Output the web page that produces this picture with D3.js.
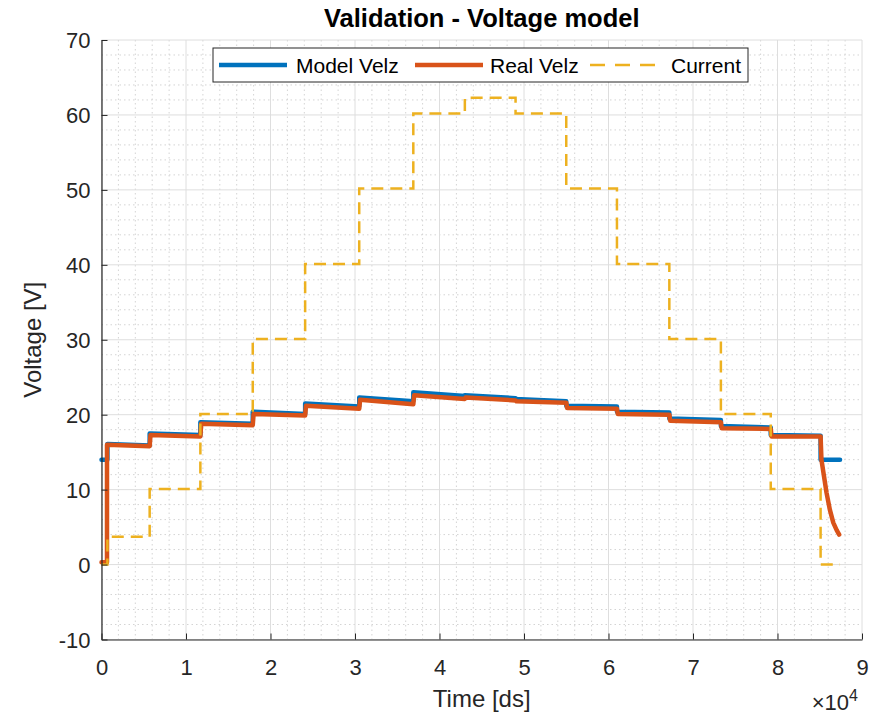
<!DOCTYPE html>
<html>
<head>
<meta charset="utf-8">
<script src="https://cdn.jsdelivr.net/npm/d3@7"></script>
<style>
  html, body { margin: 0; padding: 0; background: #fff; }
  svg { display: block; font-family: "Liberation Sans", Arial, Helvetica, sans-serif; }
</style>
</head>
<body>
<svg id="chart" width="883" height="715"></svg>
<script>
// Time axis in units of 1e4 ds
const currentT = [0, 0.07, 0.57, 1.17, 1.79, 2.41, 3.05, 3.69, 4.30, 4.90, 5.50, 6.10, 6.72, 7.33, 7.92, 8.51, 8.74];
const currentV = [0, 3.7, 10.1, 20.1, 30.1, 40.1, 50.2, 60.2, 62.3, 60.2, 50.2, 40.1, 30.1, 20.1, 10.1, 0, 0];

const modelT = [0, 0.07, 0.07, 0.57, 0.57, 1.17, 1.17, 1.79, 1.79, 2.41, 2.41, 3.05, 3.05, 3.69, 3.69, 4.30, 4.30, 4.90, 4.90, 5.50, 5.50, 6.10, 6.10, 6.72, 6.72, 7.33, 7.33, 7.92, 7.92, 8.51, 8.51, 8.74];
const modelV = [14.0, 14.0, 16.1, 15.9, 17.5, 17.3, 19.0, 18.8, 20.4, 20.1, 21.5, 21.1, 22.3, 21.8, 23.0, 22.5, 22.6, 22.2, 22.1, 21.8, 21.2, 21.1, 20.4, 20.3, 19.5, 19.3, 18.5, 18.3, 17.3, 17.2, 14.0, 14.0];

const realT = [0, 0.065, 0.065, 0.57, 0.58, 1.17, 1.18, 1.79, 1.80, 2.41, 2.42, 3.05, 3.06, 3.69, 3.70, 4.30, 4.31, 4.90, 4.91, 5.50, 5.51, 6.10, 6.11, 6.72, 6.73, 7.33, 7.34, 7.92, 7.93, 8.51, 8.52, 8.55, 8.58, 8.62, 8.66, 8.70, 8.73];
const realV = [0.3, 0.3, 16.0, 15.8, 17.3, 17.1, 18.8, 18.6, 20.1, 19.9, 21.2, 20.8, 22.0, 21.4, 22.6, 22.1, 22.3, 21.9, 21.8, 21.6, 20.9, 20.8, 20.1, 20.0, 19.2, 19.0, 18.2, 18.1, 17.1, 17.1, 14.0, 11.8, 9.6, 7.3, 5.6, 4.6, 4.0];

const xTicks = [0, 1, 2, 3, 4, 5, 6, 7, 8, 9];
const yTicks = [-10, 0, 10, 20, 30, 40, 50, 60, 70];
const seriesNames = ["Model Velz", "Real Velz", "Current"];
const colors = ["#0072BD", "#D95319", "#EDB120"];

const svg = d3.select("#chart");
const plotL = 101.5, plotR = 862, plotT = 40, plotB = 639.5;
const x = d3.scaleLinear().domain([0, 9]).range([plotL, plotR]);
const y = d3.scaleLinear().domain([-10, 70]).range([plotB, plotT]);

// minor grid
const xMinor = d3.range(0, 9.001, 0.2).filter(v => Math.abs(v - Math.round(v)) > 1e-6);
const yMinor = d3.range(-10, 70.001, 2).filter(v => Math.abs(v / 10 - Math.round(v / 10)) > 1e-6);
const grid = svg.append("g");
grid.selectAll(".xmin").data(xMinor).join("line")
  .attr("x1", d => x(d)).attr("x2", d => x(d)).attr("y1", plotT).attr("y2", plotB)
  .attr("stroke", "#d4d4d4").attr("stroke-width", 1).attr("stroke-dasharray", "1.5,3");
grid.selectAll(".ymin").data(yMinor).join("line")
  .attr("y1", d => y(d)).attr("y2", d => y(d)).attr("x1", plotL).attr("x2", plotR)
  .attr("stroke", "#d4d4d4").attr("stroke-width", 1).attr("stroke-dasharray", "1.5,3");
// major grid
grid.selectAll(".xmaj").data(xTicks).join("line")
  .attr("x1", d => x(d)).attr("x2", d => x(d)).attr("y1", plotT).attr("y2", plotB)
  .attr("stroke", "#dedede").attr("stroke-width", 1);
grid.selectAll(".ymaj").data(yTicks).join("line")
  .attr("y1", d => y(d)).attr("y2", d => y(d)).attr("x1", plotL).attr("x2", plotR)
  .attr("stroke", "#dedede").attr("stroke-width", 1);

// series
const line = d3.line().x(d => x(d[0])).y(d => y(d[1]));
const stepLine = d3.line().x(d => x(d[0])).y(d => y(d[1])).curve(d3.curveStepAfter);

svg.append("path").datum(d3.zip(modelT, modelV))
  .attr("d", line).attr("fill", "none").attr("stroke", colors[0])
  .attr("stroke-width", 4.5).attr("stroke-linejoin", "round").attr("stroke-linecap", "round");
svg.append("path").datum(d3.zip(realT, realV))
  .attr("d", line).attr("fill", "none").attr("stroke", colors[1])
  .attr("stroke-width", 4.5).attr("stroke-linejoin", "round").attr("stroke-linecap", "round");
svg.append("path").datum(d3.zip(currentT, currentV))
  .attr("d", stepLine).attr("fill", "none").attr("stroke", colors[2])
  .attr("stroke-width", 2.5).attr("stroke-dasharray", "12,7");

// axes
const axisColor = "#262626";
const gx = svg.append("g").attr("transform", `translate(0,${plotB})`)
  .call(d3.axisBottom(x).tickValues(xTicks).tickFormat(d => String(d)).tickSizeInner(-6).tickSizeOuter(0));
gx.select(".domain").attr("stroke", axisColor).attr("stroke-width", 1.2);
gx.selectAll(".tick line").attr("stroke", axisColor);
gx.selectAll(".tick text").attr("y", 35).attr("dy", null)
  .attr("fill", axisColor).attr("font-size", 22).attr("font-family", null);

const gy = svg.append("g").attr("transform", `translate(${plotL},0)`)
  .call(d3.axisLeft(y).tickValues(yTicks).tickFormat(d => String(d)).tickSizeInner(-6).tickSizeOuter(0));
gy.select(".domain").attr("stroke", axisColor).attr("stroke-width", 1.2);
gy.selectAll(".tick line").attr("stroke", axisColor);
gy.selectAll(".tick text").attr("x", -11).attr("dy", "0.36em")
  .attr("fill", axisColor).attr("font-size", 22).attr("font-family", null);

// labels
svg.append("text").attr("x", (plotL + plotR) / 2).attr("y", 27).attr("text-anchor", "middle")
  .attr("font-size", 25.5).attr("font-weight", "bold").attr("fill", "#000")
  .text("Validation - Voltage model");
svg.append("text").attr("x", (plotL + plotR) / 2).attr("y", 707).attr("text-anchor", "middle")
  .attr("font-size", 24).attr("fill", axisColor).text("Time [ds]");
svg.append("text").attr("transform", `translate(41,${(plotT + plotB) / 2}) rotate(-90)`)
  .attr("text-anchor", "middle").attr("font-size", 24).attr("fill", axisColor).text("Voltage [V]");
const expo = svg.append("text").attr("x", 858).attr("y", 710).attr("text-anchor", "end")
  .attr("font-size", 22).attr("fill", axisColor);
expo.append("tspan").text("\u00d710");
expo.append("tspan").attr("dy", -9).attr("font-size", 16).text("4");

// legend
const lg = svg.append("g");
lg.append("rect").attr("x", 213).attr("y", 48).attr("width", 535).attr("height", 34)
  .attr("fill", "#fff").attr("stroke", axisColor).attr("stroke-width", 1);
const legendItems = [
  { x0: 219, x1: 287, tx: 296, dash: null, w: 4.5 },
  { x0: 415, x1: 483, tx: 490, dash: null, w: 4.5 },
  { x0: 590, x1: 655, tx: 671, dash: "15,10", w: 2.5 }
];
legendItems.forEach((it, i) => {
  lg.append("line").attr("x1", it.x0).attr("x2", it.x1).attr("y1", 65).attr("y2", 65)
    .attr("stroke", colors[i]).attr("stroke-width", it.w)
    .attr("stroke-dasharray", it.dash);
  lg.append("text").attr("x", it.tx).attr("y", 72.5).attr("font-size", 21)
    .attr("fill", "#000").text(seriesNames[i]);
});
</script>
</body>
</html>
